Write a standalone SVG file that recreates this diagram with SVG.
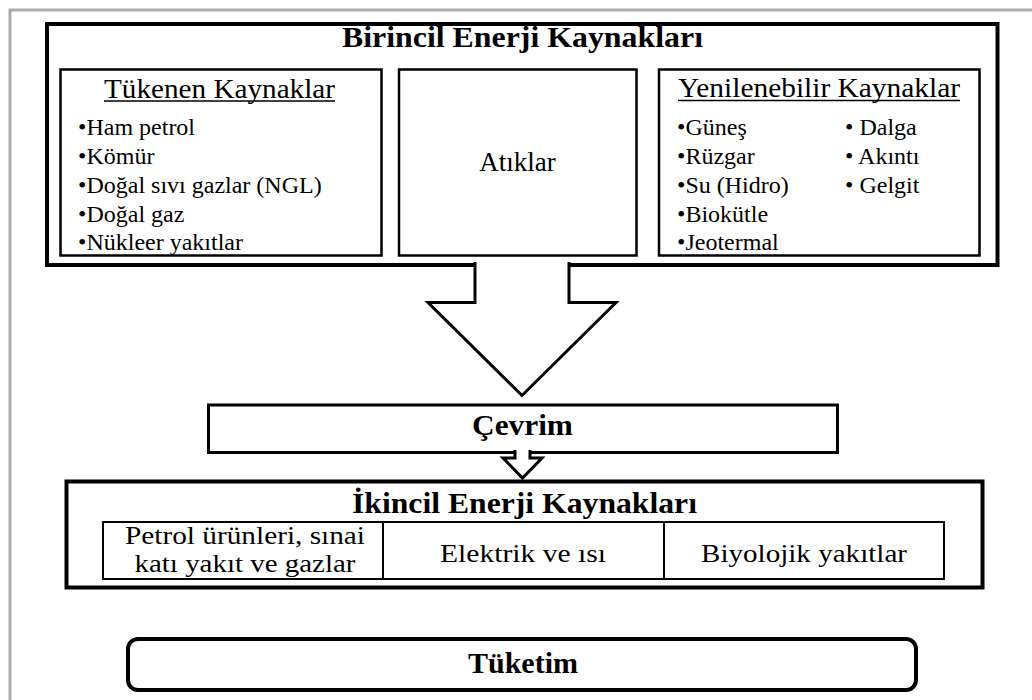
<svg xmlns="http://www.w3.org/2000/svg" width="1032" height="700" viewBox="0 0 1032 700">
<style>
text { font-family: "Liberation Serif", "Times New Roman", serif; fill: #000; }
.title { font-size: 30px; font-weight: bold; text-anchor: middle; }
.head { font-size: 27px; }
.item { font-size: 24px; }
.cell { font-size: 25px; text-anchor: middle; }
.box { fill: none; stroke: #000; }
.thick { stroke-width: 4; }
.mid { stroke-width: 3; }
.thin { stroke-width: 2.5; }
.arrow { fill: #fff; stroke: #000; stroke-width: 3; stroke-linejoin: miter; }
.ul { stroke: #000; stroke-width: 1.5; }
</style>
<rect width="1032" height="700" fill="#fff"/>
<rect id="frame" x="10" y="10" width="1100" height="800" fill="none" stroke="#ababab" stroke-width="3"/>

<g id="birincil">
  <rect class="box thick" x="47" y="24" width="950.5" height="241"/>
  <text class="title" x="522.5" y="47" textLength="361" lengthAdjust="spacingAndGlyphs">Birincil Enerji Kaynakları</text>
</g>

<g id="tukenen">
  <rect class="box thin" x="60.5" y="69.5" width="321" height="186"/>
  <text class="head" x="104" y="98" textLength="231" lengthAdjust="spacingAndGlyphs">Tükenen Kaynaklar</text>
  <line class="ul" x1="104" y1="101" x2="335" y2="101"/>
  <text class="item" x="78" y="135">•Ham petrol</text>
  <text class="item" x="78" y="164">•Kömür</text>
  <text class="item" x="78" y="193">•Doğal sıvı gazlar (NGL)</text>
  <text class="item" x="78" y="222">•Doğal gaz</text>
  <text class="item" x="78" y="250">•Nükleer yakıtlar</text>
</g>

<g id="atiklar">
  <rect class="box thin" x="399" y="69.5" width="237.5" height="186"/>
  <text x="517.5" y="171" font-size="27" text-anchor="middle">Atıklar</text>
</g>

<g id="yenilenebilir">
  <rect class="box thin" x="659" y="69.5" width="320.5" height="186"/>
  <text class="head" x="678" y="97" textLength="282" lengthAdjust="spacingAndGlyphs">Yenilenebilir Kaynaklar</text>
  <line class="ul" x1="678" y1="100.5" x2="960" y2="100.5"/>
  <text class="item" x="677" y="135">•Güneş</text>
  <text class="item" x="677" y="164">•Rüzgar</text>
  <text class="item" x="677" y="193">•Su (Hidro)</text>
  <text class="item" x="677" y="222">•Biokütle</text>
  <text class="item" x="677" y="250">•Jeotermal</text>
  <text class="item" x="845" y="135">• Dalga</text>
  <text class="item" x="845" y="164">• Akıntı</text>
  <text class="item" x="845" y="193">• Gelgit</text>
</g>

<g id="cevrim">
  <rect class="box mid" x="208.5" y="405" width="629" height="47.5"/>
  <text class="title" x="522.5" y="435" textLength="101" lengthAdjust="spacingAndGlyphs">Çevrim</text>
</g>

<g id="ikincil">
  <rect class="box thick" x="66.5" y="481.5" width="916" height="106"/>
  <text class="title" x="524.5" y="513" textLength="345" lengthAdjust="spacingAndGlyphs">İkincil Enerji Kaynakları</text>
  <rect class="box" stroke-width="2" x="103" y="522" width="841" height="57"/>
  <line stroke="#000" stroke-width="2" x1="383" y1="522" x2="383" y2="579"/>
  <line stroke="#000" stroke-width="2" x1="664" y1="522" x2="664" y2="579"/>
  <text class="cell" x="245" y="544" textLength="240" lengthAdjust="spacingAndGlyphs">Petrol ürünleri, sınai</text>
  <text class="cell" x="245" y="572" textLength="221" lengthAdjust="spacingAndGlyphs">katı yakıt ve gazlar</text>
  <text class="cell" x="523" y="562" textLength="166" lengthAdjust="spacingAndGlyphs">Elektrik ve ısı</text>
  <text class="cell" x="804" y="562" textLength="206" lengthAdjust="spacingAndGlyphs">Biyolojik yakıtlar</text>
</g>

<g id="tuketim">
  <rect class="box thick" x="128" y="639" width="788" height="51" rx="10" ry="10"/>
  <text class="title" x="523" y="673">Tüketim</text>
</g>

<g id="connectors">
  <path class="arrow" d="M475,262 V302.5 H428 L522,395.5 L616,302.5 H569 V262"/>
  <path class="arrow" d="M515,450 V458 H503 L522.5,478 L542,458 H530 V450"/>
</g>
</svg>
